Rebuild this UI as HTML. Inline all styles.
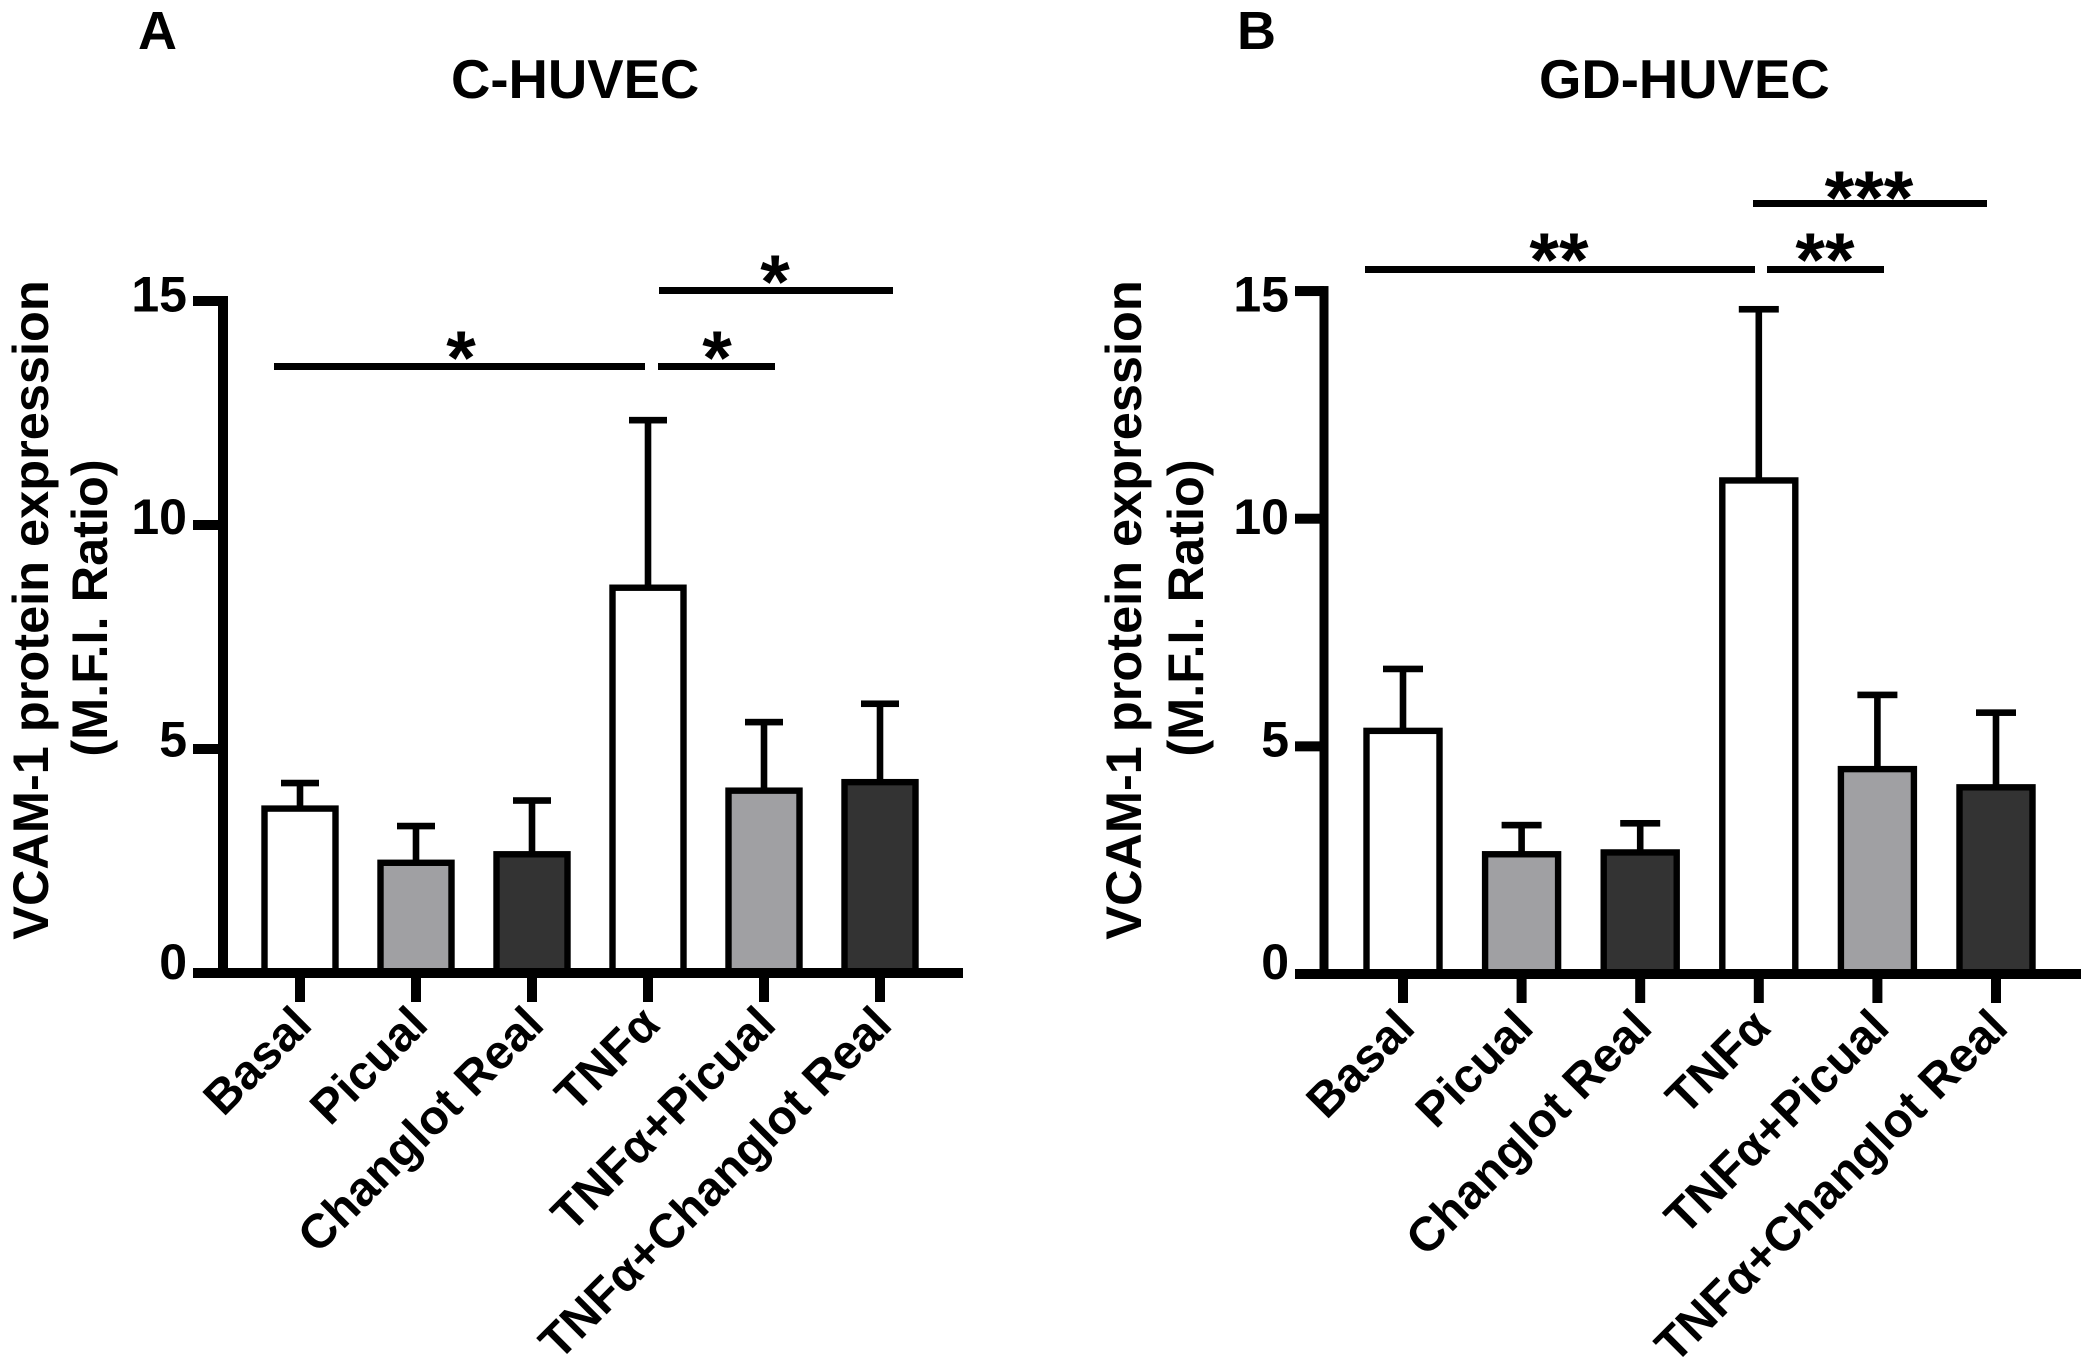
<!DOCTYPE html>
<html lang="en">
<head>
<meta charset="utf-8">
<title>VCAM-1 protein expression in C-HUVEC and GD-HUVEC</title>
<style>
  html, body { margin: 0; padding: 0; background: #fff; }
  svg { display: block; }
  text { font-family: "Liberation Sans", "DejaVu Sans", sans-serif; fill: #000; }
  .b { font-weight: bold; }
  .sig { font-size: 76px; font-weight: bold; text-anchor: middle; }
  .ttl { font-size: 54.5px; font-weight: bold; }
  .yt { font-size: 50.5px; font-weight: bold; text-anchor: middle; }
  .yt2 { font-size: 50.5px; font-weight: bold; text-anchor: middle; }
</style>
</head>
<body>
<svg id="fig" width="2092" height="1367" viewBox="0 0 2092 1367" xmlns="http://www.w3.org/2000/svg">
  <rect x="0" y="0" width="2092" height="1367" fill="#fff"/>

  <text class="b" x="138" y="49" font-size="54">A</text>
  <text class="b" x="1237" y="49" font-size="54">B</text>
  <text class="ttl" x="451" y="98">C-HUVEC</text>
  <text class="ttl" x="1539" y="98">GD-HUVEC</text>

  <text class="yt" transform="translate(48 610) rotate(-90)">VCAM-1 protein expression</text>
  <text class="yt2" transform="translate(107 608) rotate(-90)">(M.F.I. Ratio)</text>
  <text class="yt" transform="translate(1141 610) rotate(-90)">VCAM-1 protein expression</text>
  <text class="yt2" transform="translate(1203 608) rotate(-90)">(M.F.I. Ratio)</text>

  <g id="panel-a"></g>
  <g id="panel-b"></g>

  <g>
    <rect x="274" y="363" width="371" height="7" fill="#000"/>
    <rect x="658" y="363" width="117" height="7" fill="#000"/>
    <rect x="659" y="287" width="234" height="7" fill="#000"/>
    <text class="sig" x="461" y="384">*</text>
    <text class="sig" x="717" y="384">*</text>
    <text class="sig" x="775" y="308">*</text>
  </g>
  <g>
    <rect x="1365" y="266" width="390" height="7" fill="#000"/>
    <rect x="1767" y="266" width="117" height="7" fill="#000"/>
    <rect x="1753" y="200" width="234" height="7" fill="#000"/>
    <text class="sig" x="1559" y="286">**</text>
    <text class="sig" x="1825" y="286">**</text>
    <text class="sig" x="1869" y="224">***</text>
  </g>
</svg>

<script>
const categories = ["Basal", "Picual", "Changlot Real", "TNFα", "TNFα+Picual", "TNFα+Changlot Real"];
const tickValues = [0, 5, 10, 15];
const tickLabels = ["0", "5", "10", "15"];
const panelAMeans = [3.67, 2.46, 2.65, 8.6, 4.07, 4.26];
const panelAErrors = [0.57, 0.82, 1.2, 3.74, 1.53, 1.75];
const panelBMeans = [5.34, 2.63, 2.67, 10.84, 4.5, 4.1];
const panelBErrors = [1.36, 0.64, 0.64, 3.76, 1.63, 1.64];
const barFills = ["#ffffff", "#a0a0a3", "#333333", "#ffffff", "#a0a0a3", "#333333"];

const NS = "http://www.w3.org/2000/svg";
function make(tag, attrs, parent) {
  const el = document.createElementNS(NS, tag);
  for (const k in attrs) el.setAttribute(k, attrs[k]);
  parent.appendChild(el);
  return el;
}

function drawPanel(cfg, means, errors) {
  const root = document.getElementById(cfg.id);
  const yScale = v => cfg.y0 - v * cfg.unit;
  const xScale = i => cfg.x0 + i * cfg.step;
  const tickLabelY = v => 979 - v * 44.5;

  categories.forEach((name, i) => {
    const cx = xScale(i);
    const top = yScale(means[i]);
    const capY = yScale(means[i] + errors[i]);

    const stem = make("rect", { x: cx - 3.3, y: capY, width: 6.6, height: top - capY, fill: "#000" }, root);
    
    

    const cap = make("rect", { x: cx - cfg.cap / 2, y: capY - 3.3, width: cfg.cap, height: 6.6, fill: "#000" }, root);
    
    

    const bar = make("rect", {
      x: cx - cfg.bar / 2, y: top, width: cfg.bar, height: cfg.y0 - top,
      fill: barFills[i], stroke: "#000", "stroke-width": 6.4
    }, root);
    
    

    const tick = make("rect", { x: cx - 5, y: cfg.y0, width: 10, height: 29, fill: "#000" }, root);
    
    

    const lx = cx + 14;
    const ly = cfg.labelY;
    const label = make("text", {
      transform: "translate(" + lx + " " + ly + ") rotate(-45)",
      "text-anchor": "end", "font-size": 48, "font-weight": "bold"
    }, root);
    label.textContent = name;
    
    
  });

  const yAxis = make("rect", { x: cfg.axisX - cfg.axisW / 2, y: yScale(15) - 5, width: cfg.axisW, height: cfg.y0 - yScale(15) + 10, fill: "#000" }, root);
  
  

  const xAxis = make("rect", { x: cfg.tickLeft, y: cfg.y0 - 5, width: cfg.xEnd - cfg.tickLeft, height: 10, fill: "#000" }, root);
  
  

  tickValues.forEach((v, i) => {
    const t = make("rect", { x: cfg.tickLeft, y: yScale(v) - 5, width: cfg.axisX - cfg.tickLeft, height: 10, fill: "#000" }, root);
    
    

    const lab = make("text", {
      x: cfg.tickLeft - 6, y: tickLabelY(v), "text-anchor": "end", "font-size": 50, "font-weight": "bold"
    }, root);
    lab.textContent = tickLabels[i];
    
    
  });
}

drawPanel({ id: "panel-a", y0: 973, unit: 44.8, x0: 300, step: 116, bar: 71, cap: 38, axisX: 223, axisW: 10, tickLeft: 193, xEnd: 963, labelY: 1027 }, panelAMeans, panelAErrors);
drawPanel({ id: "panel-b", y0: 974, unit: 45.53, x0: 1403, step: 118.6, bar: 73, cap: 40, axisX: 1324, axisW: 9, tickLeft: 1295, xEnd: 2081, labelY: 1030 }, panelBMeans, panelBErrors);
</script>
</body>
</html>
